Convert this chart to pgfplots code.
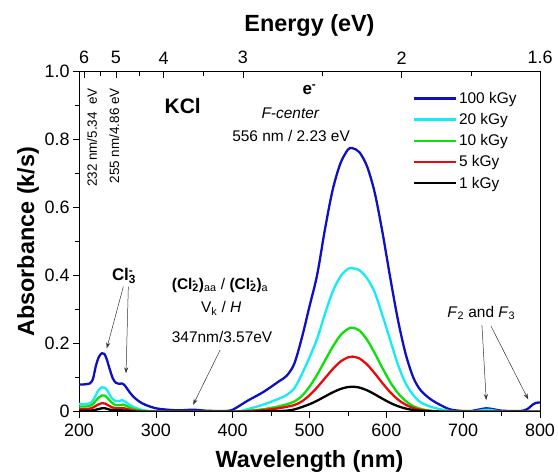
\documentclass[border=0pt]{standalone}
\usepackage{pgfplots}
\pgfplotsset{compat=1.18}
\usepackage{fontspec}
\setmainfont{Liberation Sans}
\usetikzlibrary{arrows.meta}
\definecolor{cBlue}{RGB}{15,15,195}
\definecolor{cCyan}{RGB}{20,235,245}
\definecolor{cGreen}{RGB}{10,225,10}
\definecolor{cRed}{RGB}{235,10,10}
\newcommand\tickfont{\fontsize{18}{21}\selectfont}
\newcommand\titlefont{\fontsize{23.5}{27}\selectfont\bfseries}
\newcommand\annfont{\fontsize{15.5}{18}\selectfont}
\begin{document}
\begin{tikzpicture}[x=1bp,y=1bp]
\path[use as bounding box] (0,0) rectangle (558,476);
% top energy axis
\begin{axis}[
  at={(79bp,64.3bp)}, anchor=south west,
  scale only axis, width=461bp, height=340bp,
  xmin=200, xmax=800, ymin=0, ymax=1,
  axis x line*=top, axis y line=none,
  tick align=inside,
  xtick={206.67,248,310,413.33,620,800},
  xticklabels={6,5,4,3,2,1.6},
  minor xtick={227.3,279,361.7,516.7,710},
  major tick length=6bp, minor tick length=4bp,
  tick style={black, line width=0.6bp},
  axis line style={black, line width=0.8bp},
  ticklabel style={font=\tickfont},
  xticklabel style={yshift=4bp},
  xlabel={Energy (eV)},
  xlabel style={font=\titlefont, at={(axis description cs:0.5,1.137)}, anchor=center},
]
\end{axis}
% main axis
\begin{axis}[
  at={(79bp,64.3bp)}, anchor=south west,
  scale only axis, width=461bp, height=340bp,
  xmin=200, xmax=800, ymin=0, ymax=1,
  /pgf/number format/assume math mode=true,
  xtick={200,300,400,500,600,700,800},
  minor xtick={250,350,450,550,650,750},
  ytick={0,0.2,0.4,0.6,0.8,1.0},
  yticklabels={0,0.2,0.4,0.6,0.8,1.0},
  minor ytick={0.1,0.3,0.5,0.7,0.9},
  xtick pos=lower, ytick pos=left,
  tick align=outside,
  major tick length=6bp, minor tick length=4bp,
  tick style={black, line width=0.6bp},
  axis line style={black, line width=0.8bp},
  ticklabel style={font=\tickfont},
  xticklabel style={yshift=-3bp},
  xlabel={Wavelength (nm)},
  ylabel={Absorbance (k/s)},
  xlabel style={font=\titlefont, at={(axis description cs:0.5,-0.147)}, anchor=center},
  ylabel style={font=\titlefont, at={(axis description cs:-0.1106,0.5)}, anchor=center},
  legend style={at={(0.7245,0.945)}, anchor=north west, draw=none, fill=none,
    font=\annfont, row sep=5.5bp, inner sep=0pt, nodes={inner sep=1.5bp}},
  legend cell align=left,
  legend image code/.code={\draw[#1] (0bp,0bp) -- (42bp,0bp);},
  every axis plot/.append style={line width=2.3bp, smooth},
  clip=true,
]
\addplot[cBlue] coordinates {(200,0.080)(205,0.080)(210,0.081)(214,0.083)(218,0.095)(222,0.135)(226,0.162)(230,0.172)(233,0.170)(236,0.155)(240,0.125)(244,0.098)(248,0.085)(252,0.082)(256,0.083)(260,0.076)(265,0.060)(270,0.046)(276,0.034)(282,0.025)(290,0.017)(300,0.010)(310,0.007)(320,0.005)(330,0.004)(340,0.005)(347,0.006)(355,0.005)(365,0.003)(380,0.002)(390,0.002)(398,0.004)(405,0.012)(420,0.033)(440,0.058)(460,0.089)(470,0.105)(480,0.140)(490,0.217)(500,0.310)(510,0.403)(520,0.535)(530,0.651)(540,0.729)(550,0.771)(556,0.775)(565,0.763)(575,0.721)(585,0.643)(595,0.527)(605,0.395)(615,0.271)(625,0.171)(635,0.101)(645,0.062)(660,0.033)(680,0.009)(690,0.004)(700,0.002)(710,0.002)(720,0.006)(730,0.010)(740,0.007)(750,0.003)(765,0.002)(778,0.003)(785,0.010)(790,0.020)(795,0.026)(800,0.027)};
\addlegendentry{100 kGy}
\addplot[cCyan] coordinates {(200,0.023)(210,0.023)(215,0.025)(220,0.040)(225,0.062)(230,0.072)(234,0.070)(238,0.058)(242,0.042)(247,0.032)(252,0.031)(256,0.034)(260,0.030)(266,0.020)(275,0.010)(285,0.004)(300,0.001)(320,0.0)(400,0.0)(420,0.008)(440,0.021)(460,0.038)(470,0.049)(480,0.068)(490,0.110)(500,0.160)(510,0.215)(520,0.287)(530,0.352)(540,0.397)(550,0.420)(556,0.422)(565,0.416)(575,0.392)(585,0.350)(595,0.283)(605,0.211)(615,0.139)(625,0.084)(635,0.049)(645,0.027)(660,0.013)(680,0.003)(700,0.0)(718,0.002)(730,0.006)(742,0.003)(755,0.0)(800,0.0)};
\addlegendentry{20 kGy}
\addplot[cGreen] coordinates {(200,0.015)(212,0.016)(218,0.022)(224,0.038)(230,0.048)(234,0.047)(238,0.038)(243,0.026)(248,0.019)(253,0.019)(257,0.021)(262,0.017)(268,0.010)(278,0.004)(290,0.001)(300,0.0)(400,0.0)(420,0.0025)(440,0.0074)(460,0.0156)(470,0.0217)(480,0.0296)(490,0.046)(500,0.0736)(510,0.109)(520,0.150)(530,0.190)(540,0.224)(550,0.2435)(556,0.247)(565,0.2386)(575,0.211)(585,0.1717)(595,0.128)(605,0.0874)(615,0.0548)(625,0.0316)(635,0.0165)(645,0.0079)(660,0.0023)(680,0.0)(800,0.0)};
\addlegendentry{10 kGy}
\addplot[cRed] coordinates {(200,0.008)(212,0.008)(218,0.012)(224,0.020)(230,0.025)(234,0.024)(238,0.019)(243,0.013)(248,0.010)(253,0.010)(257,0.011)(262,0.008)(270,0.004)(280,0.001)(290,0.0)(400,0.0)(420,0.0016)(440,0.0049)(460,0.0102)(470,0.0143)(480,0.0194)(490,0.0301)(500,0.0483)(510,0.0716)(520,0.0983)(530,0.1247)(540,0.1468)(550,0.1597)(556,0.162)(565,0.1565)(575,0.1385)(585,0.1126)(595,0.0839)(605,0.0573)(615,0.036)(625,0.0207)(635,0.0109)(645,0.0052)(660,0.0015)(680,0.0)(800,0.0)};
\addlegendentry{5 kGy}
\addplot[black] coordinates {(200,0.003)(215,0.003)(224,0.007)(230,0.010)(234,0.010)(240,0.006)(248,0.004)(256,0.004)(265,0.002)(280,0.0)(420,0.0)(440,0.001)(460,0.002)(470,0.003)(480,0.0065)(490,0.0137)(500,0.0219)(510,0.0325)(520,0.0446)(530,0.0566)(540,0.0666)(550,0.0725)(556,0.0735)(565,0.071)(575,0.0628)(585,0.0511)(595,0.0381)(605,0.026)(615,0.0163)(625,0.0094)(635,0.0049)(645,0.0024)(660,0.0007)(680,0.0)(800,0.0)};
\addlegendentry{1 kGy}
% annotations
\node[rotate=90, anchor=east, font=\fontsize{13.5}{16}\selectfont, inner sep=0pt] at (axis cs:217,0.952) {232 nm/5.34 \ eV};
\node[rotate=90, anchor=east, font=\fontsize{13.5}{16}\selectfont, inner sep=0pt] at (axis cs:246,0.952) {255 nm/4.86 eV};
\node[font=\fontsize{21}{24}\selectfont\bfseries] at (axis cs:335,0.899) {KCl};
\node[font=\fontsize{17}{20}\selectfont\bfseries] at (axis cs:500,0.946) {e\textsuperscript{-}};
\node[font=\annfont\itshape] at (axis cs:475,0.878) {F-center};
\node[font=\annfont] at (axis cs:476,0.811) {556 nm / 2.23 eV};
\node[font=\fontsize{17}{20}\selectfont\bfseries] at (axis cs:258.6,0.40) {Cl\rlap{\textsuperscript{-}}\textsubscript{3}};
\node[font=\annfont] at (axis cs:383.6,0.372) {\textbf{(Cl\rlap{\textsuperscript{-}}\textsubscript{2})}\textsubscript{aa} / \textbf{(Cl\rlap{\textsuperscript{-}}\textsubscript{2})}\textsubscript{a}};
\node[font=\annfont] at (axis cs:385,0.304) {V\textsubscript{k} / \textit{H}};
\node[font=\annfont] at (axis cs:386.2,0.221) {347nm/3.57eV};
\node[font=\annfont] at (axis cs:723.5,0.29) {\textit{F}\textsubscript{2} and \textit{F}\textsubscript{3}};
\draw[-{Stealth[length=6bp,width=4bp]}, line width=0.5bp, black!80] (axis cs:257.7,0.368) -- (axis cs:236.1,0.186);
\draw[-{Stealth[length=6bp,width=4bp]}, line width=0.5bp, black!80] (axis cs:264.2,0.368) -- (axis cs:261.2,0.113);
\draw[-{Stealth[length=6bp,width=4bp]}, line width=0.5bp, black!80] (axis cs:383.6,0.181) -- (axis cs:348.5,0.020);
\draw[-{Stealth[length=6bp,width=4bp]}, line width=0.5bp, black!80] (axis cs:724.4,0.255) -- (axis cs:730,0.034);
\draw[-{Stealth[length=6bp,width=4bp]}, line width=0.5bp, black!80] (axis cs:736.1,0.252) -- (axis cs:784.7,0.036);
\end{axis}
\end{tikzpicture}
\end{document}
